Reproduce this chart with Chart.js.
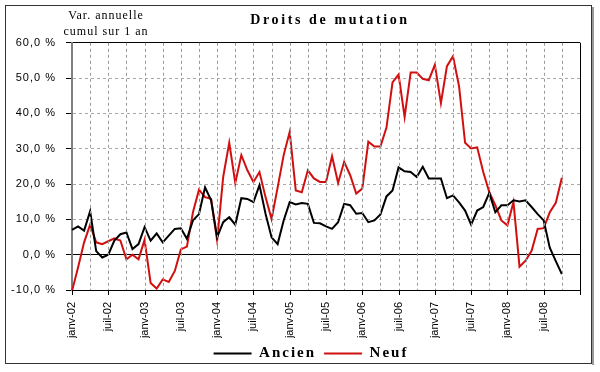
<!DOCTYPE html>
<html lang="fr">
<head>
<meta charset="utf-8">
<title>Droits de mutation</title>
<script src="https://cdn.jsdelivr.net/npm/chart.js@4"></script>
<style>
    body { margin: 0; background: #fff; }
    canvas { display: block; }
</style>
</head>
<body>
<canvas id="mutationChart" width="600" height="372"></canvas>
<script>
// mois / années de l'axe (janv-02 ... janv-09)
const mois = ["janv", "févr", "mars", "avr", "mai", "juin", "juil", "août", "sept", "oct", "nov", "déc"];
const annees = ["02", "03", "04", "05", "06", "07", "08", "09"];

// variation annuelle cumulée sur 1 an, en %
const ancien = [
    7, 8, 6.8, 12.3, 1, -0.8, 0, 4, 5.8, 6.3, 1.6, 3,
    7.8, 4, 6, 3.5, 5.4, 7.3, 7.5, 4.5, 9.7, 11.5, 19.1, 15.4,
    4.9, 9.2, 10.6, 8.5, 16, 15.8, 14.9, 19.7, 11.6, 4.9, 3, 9.7,
    14.9, 14.2, 14.6, 14.4, 9, 8.9, 8, 7.3, 9.2, 14.4, 14, 11.6,
    11.8, 9.2, 9.7, 11.4, 16.5, 18.2, 24.7, 23.6, 23.4, 22, 24.9, 21.6,
    21.6, 21.6, 16, 16.8, 14.8, 12.5, 8.5, 12.5, 13.5, 17.5, 12, 14,
    14, 15.4, 15.1, 15.4, 13.5, 11.5, 9.7, 2, -1.8, -5.5,
];
const neuf = [
    -10.3, -3.6, 3.5, 8.5, 3.5, 3, 3.8, 4.6, 4, -1.3, 0, -1.3,
    4.2, -8, -9.6, -7, -7.7, -4.6, 1.5, 2.3, 12, 18.4, 16.3, 15.8,
    4, 22, 31.7, 20.3, 28.2, 23.9, 20.6, 23.4, 16.3, 10.1, 19, 28.2,
    34.8, 18.2, 17.7, 23.9, 21.6, 20.6, 20.6, 27.9, 20.3, 26.3, 22.5, 17.3,
    18.7, 32, 30.6, 30.6, 36, 48.8, 51, 39, 51.6, 51.6, 49.8, 49.4,
    53.8, 42.9, 53.4, 56.2, 47.7, 31.7, 30.1, 30.4, 23.4, 17.7, 14, 9.7,
    8.3, 14.9, -3.4, -1.7, 1.1, 7.3, 7.5, 12, 14.7, 21.8,
];

const yMin = -10;
const yMax = 60;
const yStep = 10;

const labels = [];
annees.forEach((a) => {
    mois.forEach((m) => {
        labels.push(m + "-" + a);
    });
});
labels.length = 85; // on s'arrête à janv-09

const ctx = document.getElementById("mutationChart");

// applique un letterSpacing (et un décalage) sur certaines méthodes d'un bloc
function espacer(box, px, methodes, dx) {
    if (!box || box._espace) return;
    methodes.forEach((nom) => {
        const orig = box[nom].bind(box);
        box[nom] = function (...args) {
            const c = box.ctx;
            c.save();
            c.letterSpacing = px;
            if (dx && nom === "draw") c.translate(dx, 0);
            const r = orig(...args);
            c.restore();
            return r;
        };
    });
    box._espace = true;
}

const espacement = {
    id: "espacement",
    beforeLayout(chart) {
        espacer(chart.titleBlock, "2.6px", ["draw"], 4);
        espacer(chart.legend, "2px", ["fit", "draw"], -15);
        espacer(chart.scales.y, "1px", ["drawLabels"]);
    },
};

// quadrillage vertical (tous les 3 mois) et graduations (tous les 6 mois)
const quadrillage = {
    id: "quadrillage",
    afterDatasetsDraw(chart) {
        const c = chart.ctx;
        const area = chart.chartArea;
        const x = chart.scales.x;
        c.save();
        c.letterSpacing = "0px";
        c.globalAlpha = 1;
        c.globalCompositeOperation = "source-over";
        c.lineWidth = 1;
        for (let i = 0; i < labels.length; i++) {
            const px = Math.round(x.getPixelForValue(i)) + 0.5;
            if (i % 3 === 0 && i > 0) {
                c.strokeStyle = "#999999";
                c.setLineDash([3, 3]);
                c.beginPath();
                c.moveTo(px, area.top);
                c.lineTo(px, area.bottom);
                c.stroke();
            }
            if (i % 6 === 0) {
                c.strokeStyle = "#000000";
                c.setLineDash([]);
                c.beginPath();
                c.moveTo(px, area.bottom);
                c.lineTo(px, area.bottom + 5);
                c.stroke();
            }
        }
        c.restore();
    },
};

const cadre = {
    id: "cadre",
    beforeDraw(chart) {
        const c = chart.ctx;
        c.save();
        c.fillStyle = "#fff";
        c.fillRect(0, 0, chart.width, chart.height);
        c.strokeStyle = "#333";
        c.lineWidth = 1;
        c.strokeRect(5.5, 5.5, 586, 358);
        c.strokeStyle = "#999";
        c.lineWidth = 2;
        c.beginPath();
        c.moveTo(593, 7);
        c.lineTo(593, 365);
        c.stroke();
        c.restore();
    },
    afterDraw(chart) {
        const c = chart.ctx;
        const area = chart.chartArea;
        c.save();
        // bord droit de la zone de tracé
        c.strokeStyle = "#000";
        c.lineWidth = 1;
        c.setLineDash([]);
        c.beginPath();
        c.moveTo(Math.round(area.right) + 0.5, area.top);
        c.lineTo(Math.round(area.right) + 0.5, area.bottom);
        c.stroke();
        // libellé de l'axe vertical
        c.fillStyle = "#000";
        c.font = "12px 'Liberation Serif'";
        c.letterSpacing = "1px";
        c.textAlign = "center";
        c.textBaseline = "middle";
        c.fillText("Var. annuelle", 106, 16);
        c.fillText("cumul sur 1 an", 106, 32);
        c.restore();
    },
};

new Chart(ctx, {
    type: "line",
    data: {
        labels: labels,
        datasets: [
            {
                label: "Ancien",
                data: ancien,
                borderColor: "#000000",
                backgroundColor: "#000000",
                borderWidth: 2,
                pointRadius: 0,
                tension: 0,
            },
            {
                label: "Neuf",
                data: neuf,
                borderColor: "#d01010",
                backgroundColor: "#d01010",
                borderWidth: 2,
                pointRadius: 0,
                tension: 0,
            },
        ],
    },
    options: {
        responsive: false,
        animation: false,
        layout: {
            padding: { top: 8, left: 0, right: 20, bottom: 1 },
        },
        plugins: {
            title: {
                display: true,
                text: "Droits de mutation",
                fullSize: false,
                color: "#000",
                font: { family: "Liberation Serif", size: 14, weight: "bold" },
                padding: { top: 4, bottom: 14 },
            },
            legend: {
                position: "bottom",
                fullSize: false,
                labels: {
                    color: "#000",
                    font: { family: "Liberation Serif", size: 15, weight: "bold" },
                    usePointStyle: true,
                    pointStyle: "line",
                    pointStyleWidth: 38,
                    padding: 8,
                },
            },
            tooltip: { enabled: false },
        },
        scales: {
            x: {
                offset: false,
                grid: {
                    display: false,
                },
                border: { color: "#000", width: 1 },
                ticks: {
                    autoSkip: false,
                    minRotation: 90,
                    maxRotation: 90,
                    color: "#000",
                    padding: 4,
                    font: { family: "Liberation Sans", size: 11 },
                    callback: (v, i) => (i % 6 === 0 && i <= 78 ? labels[i] : ""),
                },
                afterFit: (s) => {
                    s.height = 48;
                },
            },
            y: {
                min: yMin,
                max: yMax,
                ticks: {
                    stepSize: yStep,
                    color: "#000",
                    padding: 10,
                    font: { family: "Liberation Sans", size: 11 },
                    callback: (v) => v.toFixed(1).replace(".", ",") + " %",
                },
                grid: {
                    color: (c) => (c.tick && (c.tick.value === 0 || c.tick.value === yMax) ? "#000" : "#a8a8a8"),
                    tickColor: "#000",
                    tickLength: 6,
                },
                border: {
                    color: "#808080",
                    width: 2,
                    dash: (c) => (c.tick && (c.tick.value === 0 || c.tick.value === yMax) ? [] : [3, 3]),
                },
                afterFit: (s) => {
                    s.width = 72;
                },
            },
        },
    },
    plugins: [cadre, quadrillage, espacement],
});
</script>
</body>
</html>
